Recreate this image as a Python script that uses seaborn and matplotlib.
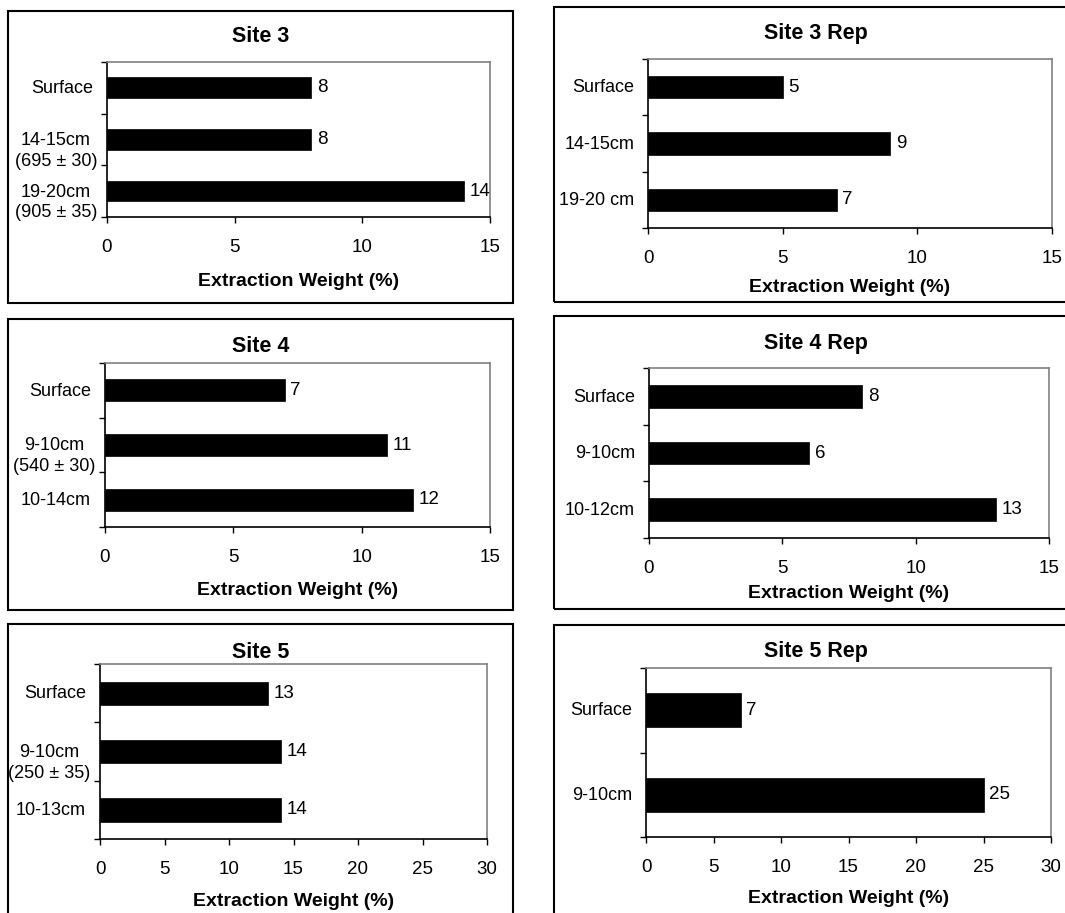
import numpy as np
import pandas as pd
import seaborn as sns
import matplotlib.pyplot as plt
from matplotlib.patches import Rectangle
from matplotlib.ticker import NullFormatter

# depth categories and extraction weights (%) for every panel
site3_depth = ["Surface", "14-15cm\n(695 ± 30)", "19-20cm\n(905 ± 35)"]
site3_weight = [8, 8, 14]
site3rep_depth = ["Surface", "14-15cm", "19-20 cm"]
site3rep_weight = [5, 9, 7]
site4_depth = ["Surface", "9-10cm\n(540 ± 30)", "10-14cm"]
site4_weight = [7, 11, 12]
site4rep_depth = ["Surface", "9-10cm", "10-12cm"]
site4rep_weight = [8, 6, 13]
site5_depth = ["Surface", "9-10cm\n(250 ± 35)", "10-13cm"]
site5_weight = [13, 14, 14]
site5rep_depth = ["Surface", "9-10cm"]
site5rep_weight = [7, 25]

W, H = 1065, 913

sns.set_theme(style="white")
plt.rcParams["font.family"] = ["Liberation Sans", "DejaVu Sans"]
plt.rcParams["text.color"] = "black"

fig = plt.figure(figsize=(W / 100, H / 100), dpi=100)


def fx(x):
    return x / W


def fy(y):
    return 1 - y / H


def panel(title, depth, weight, xmax, frame, box, title_xy, xlabel_y):
    # frame around the whole chart
    l, t, r, b = frame
    fig.add_artist(Rectangle((fx(l), fy(b)), (r - l) / W, (b - t) / H,
                             transform=fig.transFigure, fill=False,
                             edgecolor="black", lw=1.5))
    fig.text(fx(title_xy[0]), fy(title_xy[1]), title, ha="center", va="center",
             fontsize=15.5, fontweight="bold", color="black")

    al, at, ar, ab = box
    ax = fig.add_axes([fx(al), fy(ab), (ar - al) / W, (ab - at) / H])
    df = pd.DataFrame({"depth": depth, "weight": weight})
    sns.barplot(data=df, x="weight", y="depth", orient="h", color="black",
                saturation=1, width=0.4, edgecolor="black", linewidth=0.5, ax=ax)
    ax.bar_label(ax.containers[0], padding=4, fontsize=13.5, color="black")

    # ticks sit between the categories, labels drawn separately
    n = len(depth)
    ax.set_ylim(n - 0.5, -0.5)
    ax.set_yticks(np.arange(-0.5, n))
    ax.yaxis.set_major_formatter(NullFormatter())
    ax.tick_params(axis="y", left=True, length=4, width=1,
                   color="black", direction="out")
    for i, d in enumerate(depth):
        multi = "\n" in d
        # first line of a two-line label stays level with its bar
        ax.annotate(d, xy=(0, i), xycoords=("axes fraction", "data"),
                    xytext=(-7, 5.5) if multi else (-10, -0.5),
                    textcoords="offset points",
                    ha="right", va="top" if multi else "center",
                    multialignment="center", linespacing=1.3, fontsize=13,
                    color="black")

    ax.set_xlim(0, xmax)
    ax.set_xticks(range(0, xmax + 1, 5))
    ax.tick_params(axis="x", bottom=True, length=4, width=1, color="black",
                   pad=12, labelsize=13.5, labelcolor="black")

    ax.set_ylabel("")
    ax.set_xlabel("Extraction Weight (%)", fontsize=14, fontweight="bold",
                  color="black")
    ax.xaxis.set_label_coords(0.5, -(xlabel_y - ab) / (ab - at))
    ax.xaxis.label.set_va("center")

    for s in ["left", "bottom"]:
        ax.spines[s].set_color("black")
        ax.spines[s].set_linewidth(1.2)
    for s in ["top", "right"]:
        ax.spines[s].set_color("#808080")
        ax.spines[s].set_linewidth(1.2)
    ax.set_facecolor("white")
    return ax


panel("Site 3", site3_depth, site3_weight, 15,
      (8, 11, 513, 303), (107, 62, 490, 217), (261, 37), 281)
panel("Site 3 Rep", site3rep_depth, site3rep_weight, 15,
      (554, 7, 1085, 302), (648, 59, 1052, 228), (816, 33), 287)
panel("Site 4", site4_depth, site4_weight, 15,
      (8, 319, 513, 610), (105, 363, 490, 527), (261, 347), 590)
panel("Site 4 Rep", site4rep_depth, site4rep_weight, 15,
      (554, 316, 1085, 609), (649, 368, 1049, 538), (816, 343), 594)
panel("Site 5", site5_depth, site5_weight, 30,
      (8, 624, 513, 935), (100, 664, 487, 839), (261, 652), 901)
panel("Site 5 Rep", site5rep_depth, site5rep_weight, 30,
      (554, 625, 1085, 935), (646, 668, 1051, 837), (816, 652), 898)

fig.savefig("out.png", dpi=100)
